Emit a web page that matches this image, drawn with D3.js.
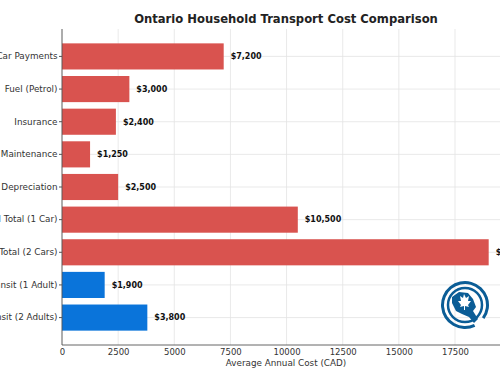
<!DOCTYPE html>
<html><head><meta charset="utf-8">
<script src="https://cdn.jsdelivr.net/npm/d3@7"></script>
<style>html,body{margin:0;padding:0;background:#fff;overflow:hidden}</style>
</head><body>
<svg id="c" width="500" height="383"></svg>
<script>
const categories = ["Car Payments","Fuel (Petrol)","Insurance","Maintenance","Depreciation","Annual Total (1 Car)","Annual Total (2 Cars)","Public Transit (1 Adult)","Public Transit (2 Adults)"];
const values = [7200,3000,2400,1250,2500,10500,19000,1900,3800];
const groups = ["car","car","car","car","car","car","car","transit","transit"];
const xTicks = [0,2500,5000,7500,10000,12500,15000,17500];
const title = "Ontario Household Transport Cost Comparison";
const xTitle = "Average Annual Cost (CAD)";

(function(){
const colors = {car:"#d9534f", transit:"#0a74da"};
const svg = d3.select("#c");
const pL = 62, pT = 29, pB = 345, pR = 510;
const x = d3.scaleLinear().domain([0, 17500]).range([pL, 455]);
const y = d3.scaleBand().domain(categories).range([pT, pB]).paddingInner(0.2).paddingOuter(0.44);
const font = "DejaVu Sans, sans-serif";

// grid
svg.append("g").selectAll("line").data(xTicks).join("line")
  .attr("x1", d => x(d)).attr("x2", d => x(d)).attr("y1", pT).attr("y2", pB)
  .attr("stroke", "#e3e3e3").attr("stroke-width", 0.8);
svg.append("g").selectAll("line").data(categories).join("line")
  .attr("x1", pL).attr("x2", pR).attr("y1", d => y(d) + y.bandwidth()/2).attr("y2", d => y(d) + y.bandwidth()/2)
  .attr("stroke", "#e3e3e3").attr("stroke-width", 0.8);

// bars
svg.append("g").selectAll("rect").data(categories).join("rect")
  .attr("x", x(0)).attr("y", d => y(d))
  .attr("width", (d,i) => x(values[i]) - x(0)).attr("height", y.bandwidth())
  .attr("fill", (d,i) => colors[groups[i]]);

// value labels
svg.append("g").selectAll("text").data(categories).join("text")
  .attr("x", (d,i) => x(values[i]) + 7).attr("y", d => y(d) + y.bandwidth()/2)
  .attr("dy", "0.35em").attr("font-family", font).attr("font-weight", "bold").attr("font-size", 8)
  .attr("fill", "#111").text((d,i) => "$" + d3.format(",")(values[i]));

// axes
const xa = svg.append("g").attr("transform", `translate(0,${pB})`)
  .call(d3.axisBottom(x).tickValues(xTicks).tickFormat(d3.format("d")).tickSize(0).tickPadding(4));
xa.select(".domain").remove();
xa.selectAll("text").attr("font-family", font).attr("font-size", 8.5).attr("fill", "#333");
const ya = svg.append("g").attr("transform", `translate(${pL},0)`)
  .call(d3.axisLeft(y).tickSize(3).tickPadding(1.5));
ya.select(".domain").remove();
ya.selectAll("text").attr("font-family", font).attr("font-size", 8.8).attr("fill", "#333");
ya.selectAll("line").attr("stroke", "#555");

svg.append("line").attr("x1", pL).attr("x2", pL).attr("y1", pT).attr("y2", pB).attr("stroke", "#555").attr("stroke-width", 0.9);
svg.append("line").attr("x1", pL).attr("x2", pR).attr("y1", pB).attr("y2", pB).attr("stroke", "#555").attr("stroke-width", 0.9);

// titles
svg.append("text").attr("x", 286).attr("y", 23).attr("text-anchor", "middle")
  .attr("font-family", font).attr("font-weight", "bold").attr("font-size", 11.6).attr("fill", "#222").text(title);
svg.append("text").attr("x", 286).attr("y", 366).attr("text-anchor", "middle")
  .attr("font-family", font).attr("font-size", 8.8).attr("fill", "#333").text(xTitle);

// logo
const lg = svg.append("g").attr("transform", "translate(465,305)");
const blue = "#0b5d96";
const arc = d3.arc();
lg.append("path").attr("d", arc({innerRadius: 21, outerRadius: 24, startAngle: 2.7, endAngle: 2.7 + 2*Math.PI - 0.5})).attr("fill", blue);
lg.append("circle").attr("r", 17).attr("fill", "none").attr("stroke", blue).attr("stroke-width", 2.5);
lg.append("path").attr("d", "M-13,-8 L-6,-13 L3,-12 L8,-6 L11,2 L8,6 L13,14 L9,18 L4,12 L-3,9 L-9,6 L-13,-2 Z").attr("fill", blue);
lg.append("path").attr("d", "M-1,-11 L1,-7 L4,-9 L3,-4 L6,-4 L3,0 L4,2 L0,1 L0,5 L-1,5 L-1,1 L-5,2 L-4,0 L-7,-4 L-4,-4 L-5,-9 L-2,-7 Z").attr("fill", "#fff");
})();
</script>
</body></html>
